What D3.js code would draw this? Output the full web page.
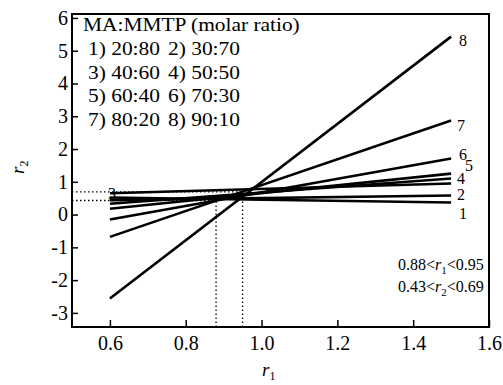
<!DOCTYPE html>
<html>
<head>
<meta charset="utf-8">
<script src="https://cdn.jsdelivr.net/npm/d3@7"></script>
<style>
  body { margin: 0; background: #fff; }
  text { font-family: "Liberation Serif", "Times New Roman", serif; fill: #000; }
</style>
</head>
<body>
<div id="chart"></div>
<script>
// r2 values of each line at r1 = 0.6 and r1 = 1.5
const r1Ends = [0.6, 1.5];
const lineIds = [1, 2, 3, 4, 5, 6, 7, 8];
const r2Start = [0.52, 0.44, 0.65, 0.33, 0.18, -0.15, -0.68, -2.56];
const r2End = [0.37, 0.58, 0.95, 1.1, 1.25, 1.71, 2.87, 5.43];
const ratios = ["20:80", "30:70", "40:60", "50:50", "60:40", "70:30", "80:20", "90:10"];
const xTicks = [0.6, 0.8, 1.0, 1.2, 1.4, 1.6];
const yTicks = [-3, -2, -1, 0, 1, 2, 3, 4, 5, 6];
const r1Range = [0.88, 0.95];
const r2Range = [0.43, 0.69];

const width = 503, height = 385;
const margin = {top: 14, right: 14, bottom: 58, left: 72};

const svg = d3.select("#chart")
    .append("svg")
    .attr("width", width)
    .attr("height", height);

const x = d3.scaleLinear()
    .domain([0.5, 1.6])
    .range([margin.left, width - margin.right]);
const y = d3.scaleLinear()
    .domain([-3.43, 6.12])
    .range([height - margin.bottom, margin.top]);

// axes, ticks pointing inwards
svg.append("g")
    .attr("transform", `translate(0,${y.range()[0]})`)
    .call(d3.axisBottom(x).tickValues(xTicks).tickFormat(d3.format(".1f"))
        .tickSizeInner(-7).tickSizeOuter(0).tickPadding(9))
    .call(g => g.select(".domain").remove())
    .call(g => g.selectAll("line").attr("stroke-width", 1.5))
    .call(g => g.selectAll("text").attr("font-size", 20).style("font-family", null));

svg.append("g")
    .attr("transform", `translate(${x.range()[0]},0)`)
    .call(d3.axisLeft(y).tickValues(yTicks).tickFormat(d => String(d))
        .tickSizeInner(-6).tickSizeOuter(0).tickPadding(4))
    .call(g => g.select(".domain").remove())
    .call(g => g.selectAll("line").attr("stroke-width", 1.5))
    .call(g => g.selectAll("text").attr("font-size", 20).style("font-family", null));

// frame
svg.append("rect")
    .attr("x", x.range()[0])
    .attr("y", y.range()[1])
    .attr("width", x.range()[1] - x.range()[0])
    .attr("height", y.range()[0] - y.range()[1])
    .attr("fill", "none")
    .attr("stroke", "#000")
    .attr("stroke-width", 2);

// dotted guide lines for the intersection region
const dots = svg.append("g")
    .attr("stroke", "#000")
    .attr("stroke-width", 1.3)
    .attr("stroke-dasharray", "1.5,2.5")
    .attr("fill", "none");
r1Range.forEach((v, i) => {
    dots.append("line")
        .attr("x1", x(v)).attr("x2", x(v))
        .attr("y1", y.range()[0]).attr("y2", y(r2Range[i]));
});
r2Range.forEach((v, i) => {
    dots.append("line")
        .attr("x1", x.range()[0]).attr("x2", x(r1Range[i]))
        .attr("y1", y(v)).attr("y2", y(v));
});

// the eight lines
const lines = lineIds.map((id, i) => ({id, a: r2Start[i], b: r2End[i]}));
svg.append("g")
    .selectAll("line")
    .data(lines)
    .join("line")
    .attr("x1", x(r1Ends[0]))
    .attr("y1", d => y(d.a))
    .attr("x2", x(r1Ends[1]))
    .attr("y2", d => y(d.b))
    .attr("stroke", "#000")
    .attr("stroke-width", 2.6);

// line numbers (3 sits at the left end)
const nudge = {1: [8, 17], 2: [6, 4], 3: [-2, 0], 4: [6, 5], 5: [14, -3], 6: [8, 1], 7: [6, 10], 8: [8, 9]};
svg.append("g")
    .selectAll("text")
    .data(lines)
    .join("text")
    .attr("x", d => d.id === 3 ? x(r1Ends[0]) + nudge[3][0] : x(r1Ends[1]) + nudge[d.id][0])
    .attr("y", d => d.id === 3 ? y(d.a) + 6 : y(d.b) + nudge[d.id][1])
    .attr("font-size", 16)
    .text(d => d.id);

// legend
function stretched(sel, px, py, str, size, sx) {
    return sel.append("text")
        .attr("transform", `translate(${px},${py}) scale(${sx},1)`)
        .attr("font-size", size)
        .text(str);
}
const leg = svg.append("g");
stretched(leg, 83, 31, "MA:MMTP (molar ratio)", 18, 1.19);
ratios.forEach((r, i) => {
    const row = Math.floor(i / 2), col = i % 2;
    stretched(leg, col ? 168 : 88, 55 + row * 23.5, `${i + 1}) ${r}`, 18, 1.19);
});

// range text
function rangeText(py, lo, sub, hi) {
    const t = svg.append("text")
        .attr("x", 398).attr("y", py)
        .attr("font-size", 16);
    t.append("tspan").text(lo + "<");
    t.append("tspan").attr("font-style", "italic").text("r");
    t.append("tspan").attr("font-size", 11).attr("dy", 4).text(sub);
    t.append("tspan").attr("dy", -4).text("<" + hi);
}
rangeText(270, "0.88", "1", "0.95");
rangeText(292, "0.43", "2", "0.69");

// axis titles
const xt = svg.append("text")
    .attr("x", 262).attr("y", 376)
    .attr("font-size", 19);
xt.append("tspan").attr("font-style", "italic").text("r");
xt.append("tspan").attr("font-size", 12).attr("dy", 4).text("1");

const yt = svg.append("text")
    .attr("transform", "translate(24,174) rotate(-90)")
    .attr("font-size", 19);
yt.append("tspan").attr("font-style", "italic").text("r");
yt.append("tspan").attr("font-size", 12).attr("dy", 4).text("2");
</script>
</body>
</html>
